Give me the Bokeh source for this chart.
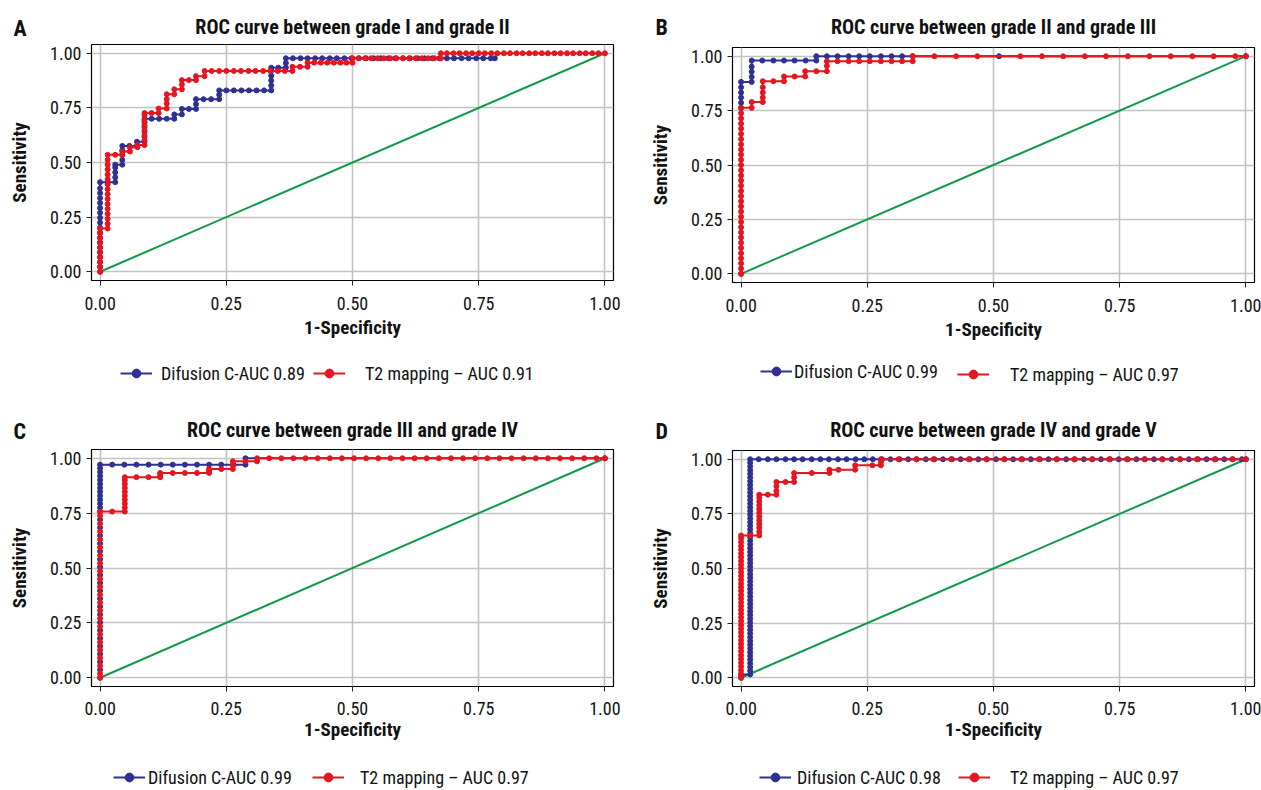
from bokeh.plotting import figure
from bokeh.models import Range1d, FixedTicker, Legend, LegendItem, Label
from bokeh.layouts import column, row
from bokeh.embed import file_html
from bokeh.resources import INLINE

FONT = "Noto Sans Condensed, Roboto Condensed, Liberation Sans Narrow, Roboto"
FONT_B = "Noto Sans ExtraCondensed, Noto Sans Condensed, Roboto Condensed, Roboto"
BLUE = "#2e3192"
RED = "#e5161f"
GREEN = "#119a48"
GRID = "#c2c2c2"
INK = "#111111"

tick_values = [0.0, 0.25, 0.5, 0.75, 1.0]
tick_labels = ["0.00", "0.25", "0.50", "0.75", "1.00"]
diag_fpr = [0.0, 1.0]
diag_tpr = [0.0, 1.0]

titles = ["ROC curve between grade I and grade II",
          "ROC curve between grade II and grade III",
          "ROC curve between grade III and grade IV",
          "ROC curve between grade IV and grade V"]
letters = ["A", "B", "C", "D"]
labels_difusion = ["Difusion C-AUC 0.89", "Difusion C-AUC 0.99",
                   "Difusion C-AUC 0.99", "Difusion C-AUC 0.98"]
labels_t2 = ["T2 mapping \u2013 AUC 0.91", "T2 mapping \u2013 AUC 0.97",
             "T2 mapping \u2013 AUC 0.97", "T2 mapping \u2013 AUC 0.97"]

# ROC points as runs starting from (0, 0): ("v", fpr, [tpr...]) or ("h", tpr, [fpr...])
roc_A_difusion = [
    ("v", 0.0, [0.022, 0.045, 0.067, 0.09, 0.112, 0.135, 0.157, 0.18, 0.202, 0.225, 0.247, 0.27,
                0.292, 0.315, 0.337, 0.36, 0.382, 0.41]),
    ("h", 0.41, [0.015, 0.03]),
    ("v", 0.03, [0.432, 0.455, 0.477, 0.49]),
    ("h", 0.49, [0.044]),
    ("v", 0.044, [0.512, 0.534, 0.556, 0.576]),
    ("h", 0.576, [0.058, 0.073]),
    ("v", 0.073, [0.595]),
    ("h", 0.595, [0.088]),
    ("v", 0.088, [0.617, 0.64, 0.662, 0.684, 0.70]),
    ("h", 0.70, [0.102, 0.117, 0.132, 0.147]),
    ("v", 0.147, [0.72]),
    ("h", 0.72, [0.162]),
    ("v", 0.162, [0.745]),
    ("h", 0.745, [0.176, 0.19]),
    ("v", 0.19, [0.767, 0.79]),
    ("h", 0.79, [0.205, 0.22, 0.236]),
    ("v", 0.236, [0.81, 0.83]),
    ("h", 0.83, [0.25, 0.265, 0.28, 0.295, 0.31, 0.325, 0.339]),
    ("v", 0.339, [0.852, 0.875, 0.897, 0.92, 0.934]),
    ("h", 0.934, [0.353, 0.368]),
    ("v", 0.368, [0.955, 0.977]),
    ("h", 0.977, [0.382, 0.397, 0.411, 0.426, 0.44, 0.455, 0.469, 0.484, 0.498, 0.513, 0.527, 0.542,
                  0.556, 0.571, 0.585, 0.6, 0.614, 0.629, 0.643, 0.658, 0.672, 0.687, 0.701, 0.716,
                  0.73, 0.745, 0.759, 0.774, 0.782]),
]
roc_A_t2 = [
    ("v", 0.0, [0.022, 0.044, 0.066, 0.088, 0.11, 0.132, 0.154, 0.176, 0.198]),
    ("h", 0.198, [0.015]),
    ("v", 0.015, [0.22, 0.243, 0.265, 0.288, 0.31, 0.333, 0.355, 0.378, 0.4, 0.423, 0.445, 0.468,
                  0.49, 0.513, 0.535]),
    ("h", 0.535, [0.03, 0.044]),
    ("v", 0.044, [0.55]),
    ("h", 0.55, [0.059]),
    ("v", 0.059, [0.57]),
    ("h", 0.57, [0.074]),
    ("v", 0.074, [0.58]),
    ("h", 0.58, [0.088]),
    ("v", 0.088, [0.603, 0.625, 0.648, 0.67, 0.693, 0.715, 0.726]),
    ("h", 0.726, [0.102, 0.116]),
    ("v", 0.116, [0.747]),
    ("h", 0.747, [0.132]),
    ("v", 0.132, [0.77, 0.79, 0.8125]),
    ("h", 0.8125, [0.147]),
    ("v", 0.147, [0.835]),
    ("h", 0.835, [0.162]),
    ("v", 0.162, [0.857, 0.877]),
    ("h", 0.877, [0.176, 0.19]),
    ("v", 0.19, [0.895]),
    ("h", 0.895, [0.207]),
    ("v", 0.207, [0.919]),
    ("h", 0.919, [0.221, 0.236, 0.25, 0.265, 0.279, 0.294, 0.308, 0.323, 0.337, 0.352, 0.366, 0.381]),
    ("v", 0.381, [0.938]),
    ("h", 0.938, [0.396, 0.411]),
    ("v", 0.411, [0.957]),
    ("h", 0.957, [0.424, 0.437, 0.45, 0.463, 0.476, 0.488, 0.5]),
    ("v", 0.5, [0.977]),
    ("h", 0.977, [0.512, 0.525, 0.537, 0.55, 0.562, 0.575, 0.587, 0.6, 0.612, 0.625, 0.637, 0.65,
                  0.662, 0.675]),
    ("v", 0.675, [1.0]),
    ("h", 1.0, [0.687, 0.7, 0.712, 0.725, 0.737, 0.75, 0.762, 0.775, 0.787, 0.8, 0.812, 0.825, 0.837,
                0.85, 0.862, 0.875, 0.887, 0.9, 0.912, 0.925, 0.937, 0.95, 0.962, 0.975, 0.987, 1.0]),
]
roc_B_difusion = [
    ("v", 0.0, [0.762, 0.786, 0.81, 0.833, 0.857, 0.882]),
    ("h", 0.882, [0.021]),
    ("v", 0.021, [0.905, 0.929, 0.952, 0.98]),
    ("h", 0.98, [0.042, 0.064, 0.085, 0.106, 0.128, 0.149]),
    ("v", 0.149, [1.0]),
    ("h", 1.0, [0.17, 0.191, 0.213, 0.234, 0.255, 0.277, 0.298, 0.319, 0.34, 0.511, 1.0]),
]
roc_B_t2 = [
    ("v", 0.0, [0.024, 0.048, 0.071, 0.095, 0.119, 0.143, 0.167, 0.19, 0.214, 0.238, 0.262, 0.286,
                0.31, 0.333, 0.357, 0.381, 0.405, 0.429, 0.452, 0.476, 0.5, 0.524, 0.548, 0.571,
                0.595, 0.619, 0.643, 0.667, 0.69, 0.714, 0.738, 0.763]),
    ("h", 0.763, [0.021]),
    ("v", 0.021, [0.789]),
    ("h", 0.789, [0.043]),
    ("v", 0.043, [0.81, 0.833, 0.857, 0.885]),
    ("h", 0.885, [0.064, 0.085]),
    ("v", 0.085, [0.907]),
    ("h", 0.907, [0.106, 0.127]),
    ("v", 0.127, [0.931]),
    ("h", 0.931, [0.149, 0.17]),
    ("v", 0.17, [0.955, 0.977]),
    ("h", 0.977, [0.191, 0.213, 0.234, 0.255, 0.277, 0.298, 0.319, 0.34]),
    ("v", 0.34, [1.0]),
    ("h", 1.0, [0.383, 0.426, 0.468, 0.553, 0.596, 0.638, 0.681, 0.723, 0.766, 0.809, 0.851, 0.894,
                0.936, 0.979, 1.0]),
]
roc_C_difusion = [
    ("v", 0.0, [0.036, 0.072, 0.108, 0.144, 0.18, 0.216, 0.252, 0.288, 0.324, 0.36, 0.396, 0.432,
                0.468, 0.504, 0.54, 0.576, 0.612, 0.648, 0.684, 0.72, 0.757, 0.775, 0.793, 0.811,
                0.829, 0.847, 0.865, 0.883, 0.901, 0.919, 0.937, 0.955, 0.971]),
    ("h", 0.971, [0.024, 0.048, 0.072, 0.096, 0.12, 0.144, 0.168, 0.192, 0.216, 0.24, 0.264, 0.288]),
    ("v", 0.288, [1.0]),
    ("h", 1.0, [1.0]),
]
roc_C_t2 = [
    ("v", 0.0, [0.018, 0.054, 0.09, 0.126, 0.162, 0.198, 0.234, 0.27, 0.306, 0.342, 0.378, 0.414,
                0.45, 0.486, 0.522, 0.558, 0.594, 0.63, 0.666, 0.702, 0.738, 0.757]),
    ("h", 0.757, [0.024, 0.049]),
    ("v", 0.049, [0.775, 0.793, 0.811, 0.829, 0.847, 0.865, 0.883, 0.9, 0.914]),
    ("h", 0.914, [0.072, 0.096, 0.119]),
    ("v", 0.119, [0.924, 0.933]),
    ("h", 0.933, [0.144, 0.168, 0.192, 0.216]),
    ("v", 0.216, [0.942, 0.951]),
    ("h", 0.951, [0.24, 0.263]),
    ("v", 0.263, [0.969, 0.986]),
    ("h", 0.986, [0.288, 0.311]),
    ("v", 0.311, [1.0]),
    ("h", 1.0, [0.335, 0.359, 0.383, 0.407, 0.431, 0.455, 0.479, 0.503, 0.527, 0.551, 0.575, 0.599,
                0.623, 0.647, 0.671, 0.695, 0.719, 0.743, 0.767, 0.791, 0.815, 0.839, 0.863, 0.887,
                0.911, 0.935, 0.959, 0.983, 1.0]),
]
roc_D_difusion = [
    ("v", 0.0, [0.015]),
    ("h", 0.015, [0.018]),
    ("v", 0.018, [0.032, 0.049, 0.066, 0.083, 0.1, 0.117, 0.134, 0.151, 0.168, 0.185, 0.202, 0.219,
                  0.236, 0.253, 0.27, 0.287, 0.304, 0.321, 0.338, 0.355, 0.372, 0.389, 0.406, 0.423,
                  0.44, 0.457, 0.474, 0.491, 0.508, 0.525, 0.542, 0.559, 0.576, 0.593, 0.61, 0.627,
                  0.644, 0.661, 0.678, 0.695, 0.712, 0.729, 0.746, 0.763, 0.78, 0.797, 0.814, 0.831,
                  0.848, 0.865, 0.882, 0.899, 0.916, 0.933, 0.95, 0.967, 0.984, 1.0]),
    ("h", 1.0, [0.035, 0.053, 0.07, 0.088, 0.105, 0.122, 0.14, 0.157, 0.174, 0.192, 0.209, 0.227,
                0.244, 0.261, 0.279, 0.296, 0.314, 0.331, 0.348, 0.366, 0.383, 0.4, 0.418, 0.435,
                0.453, 0.47, 0.487, 0.505, 0.522, 0.539, 0.557, 0.574, 0.592, 0.609, 0.626, 0.644,
                0.661, 0.679, 0.696, 0.713, 0.731, 0.748, 0.766, 0.783, 0.8, 0.818, 0.835, 0.853,
                0.87, 0.887, 0.905, 0.922, 0.94, 0.957, 0.974, 0.992, 1.0]),
]
roc_D_t2 = [
    ("v", 0.0, [0.017, 0.034, 0.052, 0.069, 0.086, 0.103, 0.121, 0.138, 0.155, 0.172, 0.19, 0.207,
                0.224, 0.241, 0.259, 0.276, 0.293, 0.31, 0.328, 0.345, 0.362, 0.379, 0.397, 0.414,
                0.431, 0.448, 0.466, 0.483, 0.5, 0.517, 0.534, 0.552, 0.569, 0.586, 0.603, 0.621,
                0.638, 0.651]),
    ("h", 0.651, [0.018, 0.036]),
    ("v", 0.036, [0.668, 0.686, 0.703, 0.72, 0.738, 0.755, 0.772, 0.79, 0.807, 0.824, 0.838]),
    ("h", 0.838, [0.053, 0.07]),
    ("v", 0.07, [0.855, 0.876, 0.896]),
    ("h", 0.896, [0.088, 0.105]),
    ("v", 0.105, [0.917, 0.937]),
    ("h", 0.937, [0.14, 0.175]),
    ("v", 0.175, [0.952]),
    ("h", 0.952, [0.193, 0.226]),
    ("v", 0.226, [0.972]),
    ("h", 0.972, [0.26, 0.277]),
    ("v", 0.277, [0.986, 1.0]),
    ("h", 1.0, [0.312, 0.347, 0.381, 0.416, 0.451, 0.486, 0.521, 0.555, 0.59, 0.625, 0.66, 0.695,
                0.729, 0.764, 0.799, 0.834, 0.869, 0.903, 0.938, 0.973, 1.0]),
]

# off-range anchor for the legend key renderers (never visible, only gives the keys a glyph)
legend_key_x = [-50.0]
legend_key_y = [-50.0]


def expand(runs):
    xs, ys = [0.0], [0.0]
    for kind, fixed, vals in runs:
        for v in vals:
            if kind == "v":
                xs.append(fixed)
                ys.append(v)
            else:
                xs.append(v)
                ys.append(fixed)
    return xs, ys


rocs = [(roc_A_difusion, roc_A_t2), (roc_B_difusion, roc_B_t2),
        (roc_C_difusion, roc_C_t2), (roc_D_difusion, roc_D_t2)]

# pixel geometry of each panel: widths, header / main / footer heights, borders, text spots
geoms = [
    dict(w=630, hh=43, mh=302, fh=55, bl=91, br=17, bt=1, bb=65, ls=11, als=3,
         letter=(13, 15.5), title=(352, 17),
         leg_b=(120, 16, 9), leg_r=(313, 16, 20)),
    dict(w=631, hh=43, mh=302, fh=55, bl=102, br=7, bt=4, bb=63, ls=11, als=3,
         letter=(25, 16.3), title=(363, 17),
         leg_b=(130, 18, 2), leg_r=(327, 15, 21)),
    dict(w=630, hh=47, mh=303, fh=40, bl=91, br=17, bt=2, bb=64, ls=10, als=0,
         letter=(13, 16.5), title=(352, 18),
         leg_b=(113, 2, 3), leg_r=(312, 2, 16)),
    dict(w=631, hh=47, mh=303, fh=40, bl=102, br=7, bt=3, bb=64, ls=10, als=0,
         letter=(25, 16), title=(363, 17.5),
         leg_b=(129, 2, 6), leg_r=(328, 2, 20)),
]


def unaligned(f):
    if "frame_align" in f.properties():
        f.frame_align = False
    return f


def blank(w, h):
    f = figure(width=w, height=h, x_range=Range1d(0, w), y_range=Range1d(0, h),
               x_axis_type=None, y_axis_type=None, output_backend="svg", toolbar_location=None,
               min_border_left=0, min_border_right=0, min_border_top=0, min_border_bottom=0)
    f.xgrid.visible = False
    f.ygrid.visible = False
    f.outline_line_color = None
    f.background_fill_color = "white"
    f.border_fill_color = "white"
    return unaligned(f)


def make_header(i):
    g = geoms[i]
    f = blank(g["w"], g["hh"])
    lx, ly = g["letter"]
    f.add_layout(Label(x=lx, y=ly, text=letters[i], text_font=FONT_B, text_font_style="bold",
                       text_font_size="22px", text_align="left", text_baseline="middle",
                       text_color=INK))
    tx, ty = g["title"]
    f.add_layout(Label(x=tx, y=ty, text=titles[i], text_font=FONT_B, text_font_style="bold",
                       text_font_size="20px", text_align="center", text_baseline="middle",
                       text_color=INK))
    return f


def make_main(i):
    g = geoms[i]
    p = figure(width=g["w"], height=g["mh"], x_range=Range1d(-0.017, 1.017),
               y_range=Range1d(-0.04, 1.04), output_backend="svg", toolbar_location=None,
               min_border_left=g["bl"], min_border_right=g["br"], min_border_top=g["bt"],
               min_border_bottom=g["bb"])
    unaligned(p)
    p.outline_line_color = "black"
    p.outline_line_width = 1.2
    p.outline_line_alpha = 1.0
    p.background_fill_color = "white"
    p.border_fill_color = "white"

    for ax in (p.xaxis[0], p.yaxis[0]):
        ax.ticker = FixedTicker(ticks=tick_values)
        ax.major_label_overrides = dict(zip(tick_values, tick_labels))
        ax.major_label_text_font = FONT
        ax.major_label_text_font_size = "18px"
        ax.major_label_text_color = INK
        ax.axis_label_text_font = FONT_B
        ax.axis_label_text_font_size = "19px"
        ax.axis_label_text_font_style = "bold"
        ax.axis_label_text_color = INK
        ax.axis_line_color = None
        ax.major_tick_out = 5
        ax.major_tick_in = 0
        ax.major_tick_line_color = "#222222"
        ax.minor_tick_line_color = None
    p.xaxis.axis_label = "1-Specificity"
    p.yaxis.axis_label = "Sensitivity"
    p.xaxis.major_label_standoff = g["ls"]
    p.xaxis.axis_label_standoff = g["als"]
    p.yaxis.major_label_standoff = 5
    p.yaxis.axis_label_standoff = 16

    for gr in (p.xgrid[0], p.ygrid[0]):
        gr.ticker = FixedTicker(ticks=tick_values)
        gr.grid_line_color = GRID
        gr.grid_line_width = 1.6

    p.line(diag_fpr, diag_tpr, line_color=GREEN, line_width=2)
    bx, by = expand(rocs[i][0])
    rx, ry = expand(rocs[i][1])
    p.line(bx, by, line_color=BLUE, line_width=2)
    p.scatter(bx, by, marker="circle", size=5, fill_color=BLUE, line_color=BLUE)
    p.line(rx, ry, line_color=RED, line_width=2)
    p.scatter(rx, ry, marker="circle", size=5, fill_color=RED, line_color=RED)
    return p


def make_footer(i):
    g = geoms[i]
    f = blank(g["w"], g["fh"])
    for (vx, vy, st), lab, col in ((g["leg_b"], labels_difusion[i], BLUE),
                                   (g["leg_r"], labels_t2[i], RED)):
        gl = f.line(x=legend_key_x, y=legend_key_y, line_color=col, line_width=2)
        gs = f.scatter(x=legend_key_x, y=legend_key_y, marker="circle", size=7,
                       fill_color=col, line_color=col)
        f.add_layout(Legend(items=[LegendItem(label=lab, renderers=[gl, gs])], location=(vx, vy),
                            orientation="horizontal", padding=0, margin=0,
                            border_line_color=None, background_fill_alpha=0, glyph_width=32,
                            glyph_height=22, label_height=22, label_standoff=st,
                            label_text_font=FONT, label_text_font_size="18px",
                            label_text_color=INK))
    return f


cols = [column(make_header(i), make_main(i), make_footer(i)) for i in range(4)]
layout = column(row(cols[0], cols[1]), row(cols[2], cols[3]))

open("out.html", "w").write(file_html(layout, INLINE))
